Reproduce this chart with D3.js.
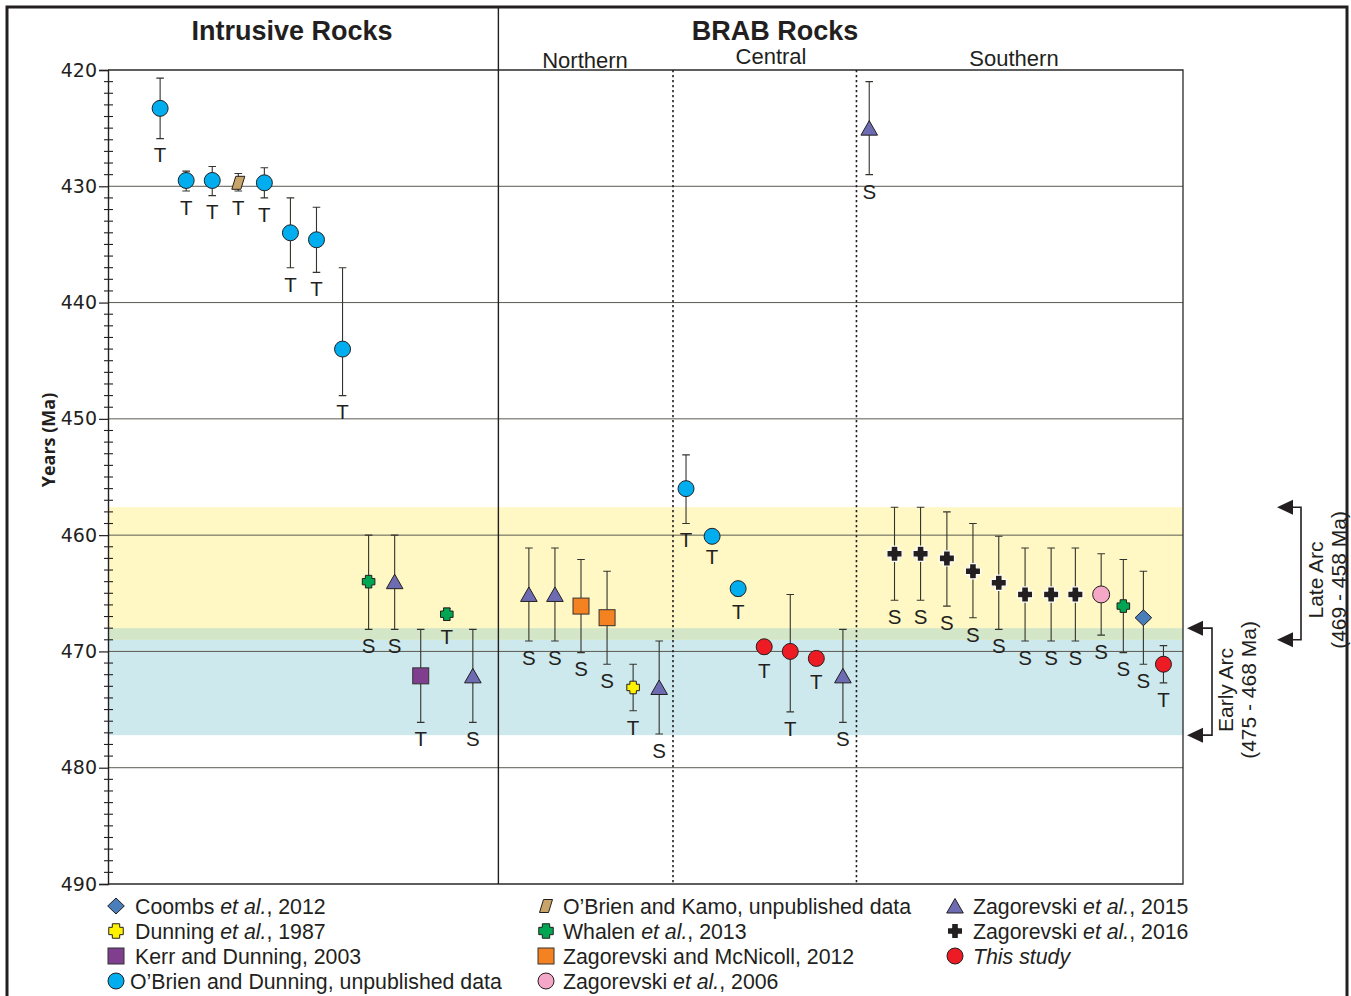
<!DOCTYPE html>
<html>
<head>
<meta charset="utf-8">
<script src="https://cdn.jsdelivr.net/npm/d3@7"></script>
<style>
  body { margin: 0; background: #fff; }
  svg { display: block; }
</style>
</head>
<body>
<svg id="chart" width="1351" height="996"></svg>
<script>
// ---- Age axis (Ma) ----
const ageDomain = [420, 490];
const ageTicks = [420, 430, 440, 450, 460, 470, 480, 490];
const gridAges = [430, 440, 450, 460, 470, 480];

// Horizontal sample slots (one slot per dated sample)
const slotDomain = [-2, 39.25];
const sectionBreak = 12.98;        // Intrusive | BRAB
const subBreaks = [19.68, 26.72];  // Northern | Central | Southern

// Arc phases (Ma)
const lateArc = [457.6, 469.0];
const earlyArc = [468.0, 477.2];

// Samples: [slot, source, age, min, max, method]
const intrusive = [
  [0,  "obd", 423.3, 420.7, 425.9, "T"],
  [1,  "obd", 429.5, 428.7, 430.4, "T"],
  [2,  "obd", 429.5, 428.3, 430.8, "T"],
  [3,  "obk", 429.7, 428.9, 430.4, "T"],
  [4,  "obd", 429.7, 428.4, 431.0, "T"],
  [5,  "obd", 434.0, 431.0, 437.0, "T"],
  [6,  "obd", 434.6, 431.8, 437.4, "T"],
  [7,  "obd", 444.0, 437.0, 448.0, "T"],
  [8,  "wha", 464.0, 460.0, 468.1, "S"],
  [9,  "z15", 464.0, 460.0, 468.1, "S"],
  [10, "ker", 472.1, 468.1, 476.1, "T"],
  [11, "wha", 466.8, 466.3, 467.3, "T"],
  [12, "z15", 472.1, 468.1, 476.1, "S"]
];
const northern = [
  [14.15, "z15", 465.1, 461.1, 469.1, "S"],
  [15.15, "z15", 465.1, 461.1, 469.1, "S"],
  [16.15, "zmc", 466.1, 462.1, 470.1, "S"],
  [17.15, "zmc", 467.1, 463.1, 471.1, "S"],
  [18.15, "dun", 473.1, 471.1, 475.1, "T"],
  [19.15, "z15", 473.1, 469.1, 477.1, "S"]
];
const central = [
  [20.18, "obd", 456.0, 453.1, 459.0, "T"],
  [21.18, "obd", 460.1, 459.7, 460.4, "T"],
  [22.18, "obd", 464.6, 464.1, 465.2, "T"],
  [23.18, "ths", 469.6, 469.1, 470.2, "T"],
  [24.18, "ths", 470.0, 465.1, 475.2, "T"],
  [25.18, "ths", 470.6, 470.1, 471.2, "T"],
  [26.2,  "z15", 472.1, 468.1, 476.1, "S"]
];
const southern = [
  [27.21, "z15", 425.0, 421.0, 429.0, "S"],
  [28.18, "z16", 461.6, 457.6, 465.6, "S"],
  [29.18, "z16", 461.6, 457.6, 465.6, "S"],
  [30.19, "z16", 462.0, 458.0, 466.1, "S"],
  [31.19, "z16", 463.1, 459.0, 467.1, "S"],
  [32.18, "z16", 464.1, 460.1, 468.1, "S"],
  [33.19, "z16", 465.1, 461.1, 469.1, "S"],
  [34.19, "z16", 465.1, 461.1, 469.1, "S"],
  [35.12, "z16", 465.1, 461.1, 469.1, "S"],
  [36.11, "z06", 465.1, 461.6, 468.6, "S"],
  [36.96, "wha", 466.1, 462.1, 470.1, "S"],
  [37.73, "coo", 467.1, 463.1, 471.1, "S"],
  [38.5,  "ths", 471.1, 469.5, 472.7, "T"]
];

// Data sources: key, marker, colour, legend text parts ([text, italic])
const sources = [
  { key: "coo", shape: "diamond", color: "#4a7ebb", text: [["Coombs ", 0], ["et al.", 1], [", 2012", 0]] },
  { key: "dun", shape: "plusS",   color: "#fff200", text: [["Dunning ", 0], ["et al.", 1], [", 1987", 0]] },
  { key: "ker", shape: "square",  color: "#7f3f8e", text: [["Kerr and Dunning, 2003", 0]] },
  { key: "obd", shape: "circle",  color: "#00aeef", text: [["O\u2019Brien and Dunning, unpublished data", 0]] },
  { key: "obk", shape: "para",    color: "#c9a468", text: [["O\u2019Brien and Kamo, unpublished data", 0]] },
  { key: "wha", shape: "plusS",   color: "#00a651", text: [["Whalen ", 0], ["et al.", 1], [", 2013", 0]] },
  { key: "zmc", shape: "square",  color: "#f58220", text: [["Zagorevski and McNicoll, 2012", 0]] },
  { key: "z06", shape: "circleL", color: "#f4a7c7", text: [["Zagorevski ", 0], ["et al.", 1], [", 2006", 0]] },
  { key: "z15", shape: "tri",     color: "#6d6bb2", text: [["Zagorevski ", 0], ["et al.", 1], [", 2015", 0]] },
  { key: "z16", shape: "plusL",   color: "#231f20", text: [["Zagorevski ", 0], ["et al.", 1], [", 2016", 0]] },
  { key: "ths", shape: "circle",  color: "#ed1c24", text: [["This study", 1]] }
];

// ---- Layout ----
const svg = d3.select("#chart");
const plot = { left: 108, right: 1183, top: 70, bottom: 884 };
const FONT = "'Liberation Sans', Arial, sans-serif";

const y = d3.scaleLinear().domain(ageDomain).range([plot.top, plot.bottom]);
const x = d3.scaleLinear().domain(slotDomain).range([plot.left, plot.right]);
const srcByKey = new Map(sources.map(s => [s.key, s]));

// Marker geometry
function plusPath(L, a) {
  return `M${-a},${-L}H${a}V${-a}H${L}V${a}H${a}V${L}H${-a}V${a}H${-L}V${-a}H${-a}Z`;
}
function drawMarker(g, shape, color, k = 1) {
  const stroke = "#231f20";
  switch (shape) {
    case "circle":
      g.append("circle").attr("r", 8 * k).attr("fill", color).attr("stroke", stroke).attr("stroke-width", 1);
      break;
    case "circleL":
      g.append("circle").attr("r", 8.5 * k).attr("fill", color).attr("stroke", stroke).attr("stroke-width", 1);
      break;
    case "square":
      g.append("rect").attr("x", -8 * k).attr("y", -8 * k).attr("width", 16 * k).attr("height", 16 * k)
        .attr("fill", color).attr("stroke", "#333").attr("stroke-width", 1);
      break;
    case "tri":
      g.append("path").attr("d", `M0,${-7.5 * k}L${8.3 * k},${7 * k}L${-8.3 * k},${7 * k}Z`)
        .attr("fill", color).attr("stroke", stroke).attr("stroke-width", 1);
      break;
    case "diamond":
      g.append("path").attr("d", `M0,${-8 * k}L${8.3 * k},0L0,${8 * k}L${-8.3 * k},0Z`)
        .attr("fill", color).attr("stroke", stroke).attr("stroke-width", 1);
      break;
    case "para":
      g.append("path").attr("d", `M${-2.5 * k},${-6.5 * k}L${6.5 * k},${-6.5 * k}L${2.5 * k},${6.5 * k}L${-6.5 * k},${6.5 * k}Z`)
        .attr("fill", color).attr("stroke", stroke).attr("stroke-width", 1);
      break;
    case "plusS":
      g.append("path").attr("d", plusPath(6.3 * k, 3.2 * k))
        .attr("fill", color).attr("stroke", stroke).attr("stroke-width", 1).attr("stroke-linejoin", "round");
      break;
    case "plusL":
      g.append("path").attr("d", plusPath(7.6 * k, 3.4 * k))
        .attr("fill", color).attr("stroke", "#fff").attr("stroke-width", 1.2).attr("stroke-linejoin", "round");
      break;
  }
}

// ---- Outer frame ----
svg.append("rect").attr("x", 7).attr("y", 7).attr("width", 1340).attr("height", 1200)
  .attr("fill", "none").attr("stroke", "#231f20").attr("stroke-width", 3);

// ---- Arc bands ----
const bands = svg.append("g");
bands.append("rect").attr("x", plot.left).attr("width", plot.right - plot.left)
  .attr("y", y(earlyArc[0])).attr("height", y(earlyArc[1]) - y(earlyArc[0]))
  .attr("fill", "#cde9ed");
bands.append("rect").attr("x", plot.left).attr("width", plot.right - plot.left)
  .attr("y", y(lateArc[0])).attr("height", y(lateArc[1]) - y(lateArc[0]))
  .attr("fill", "#fff8c5");
const overlap = [Math.max(lateArc[0], earlyArc[0]), Math.min(lateArc[1], earlyArc[1])];
bands.append("rect").attr("x", plot.left).attr("width", plot.right - plot.left)
  .attr("y", y(overlap[0])).attr("height", y(overlap[1]) - y(overlap[0]))
  .attr("fill", "#d3e6c7");

// ---- Gridlines ----
svg.append("g").selectAll("line").data(gridAges).join("line")
  .attr("x1", plot.left).attr("x2", plot.right)
  .attr("y1", d => y(d)).attr("y2", d => y(d))
  .attr("stroke", "#5a5a52").attr("stroke-width", 1);

// ---- Plot box ----
svg.append("path")
  .attr("d", `M${plot.left},${plot.top}H${plot.right}V${plot.bottom}H${plot.left}`)
  .attr("fill", "none").attr("stroke", "#2a2a2a").attr("stroke-width", 1.3);

// Section divider and sub-region dotted lines
svg.append("line").attr("x1", x(sectionBreak)).attr("x2", x(sectionBreak))
  .attr("y1", 8).attr("y2", plot.bottom)
  .attr("stroke", "#231f20").attr("stroke-width", 1.4);
svg.append("g").selectAll("line").data(subBreaks).join("line")
  .attr("x1", d => x(d)).attr("x2", d => x(d))
  .attr("y1", plot.top).attr("y2", plot.bottom)
  .attr("stroke", "#231f20").attr("stroke-width", 1.6).attr("stroke-dasharray", "2.2,2.8");

// ---- Y axis ----
const axisG = svg.append("g").attr("transform", `translate(${plot.left},0)`);
axisG.call(d3.axisLeft(y).tickValues(ageTicks).tickSize(9).tickPadding(2).tickFormat(d3.format("d")));
axisG.select(".domain").attr("stroke", "#231f20").attr("stroke-width", 1.4);
axisG.selectAll(".tick line").attr("stroke", "#231f20").attr("stroke-width", 1.2);
axisG.selectAll(".tick text")
  .attr("font-family", "'DejaVu Sans', Verdana, sans-serif").attr("font-size", 19).attr("fill", "#231f20");

const minorAges = d3.range(ageDomain[0] + 1, ageDomain[1]).filter(v => v % 10 !== 0);
svg.append("g").selectAll("line").data(minorAges).join("line")
  .attr("x1", plot.left - 4).attr("x2", plot.left + 5)
  .attr("y1", d => y(d)).attr("y2", d => y(d))
  .attr("stroke", "#231f20").attr("stroke-width", 1.1);

svg.append("text")
  .attr("transform", "translate(55,440) rotate(-90)")
  .attr("text-anchor", "middle")
  .attr("font-family", "'Open Sans', 'DejaVu Sans', sans-serif")
  .attr("font-weight", 700).attr("font-size", 18).attr("fill", "#231f20")
  .text("Years (Ma)");

// ---- Headers ----
const headers = [
  { t: "Intrusive Rocks", x: 292, y: 40, bold: true, size: 27 },
  { t: "BRAB Rocks", x: 775, y: 40, bold: true, size: 27 },
  { t: "Northern", x: 585, y: 68, bold: false, size: 22 },
  { t: "Central", x: 771, y: 64, bold: false, size: 22 },
  { t: "Southern", x: 1014, y: 66, bold: false, size: 22 }
];
svg.append("g").selectAll("text").data(headers).join("text")
  .attr("x", d => d.x).attr("y", d => d.y)
  .attr("text-anchor", "middle")
  .attr("font-family", FONT)
  .attr("font-weight", d => d.bold ? 700 : 400)
  .attr("font-size", d => d.size)
  .attr("fill", "#231f20")
  .text(d => d.t);

// ---- Samples ----
const samples = [...intrusive, ...northern, ...central, ...southern].map(r => ({
  slot: r[0], src: r[1], age: r[2], min: r[3], max: r[4], method: r[5]
}));

const errG = svg.append("g").attr("stroke", "#34342c").attr("stroke-width", 1.1).attr("fill", "none");
samples.forEach(d => {
  const cx = x(d.slot), y0 = y(d.min), y1 = y(d.max);
  errG.append("path").attr("d",
    `M${cx},${y0}V${y1}M${cx - 3.8},${y0}H${cx + 3.8}M${cx - 3.8},${y1}H${cx + 3.8}`);
});

const markG = svg.append("g");
samples.forEach(d => {
  const s = srcByKey.get(d.src);
  const g = markG.append("g").attr("transform", `translate(${x(d.slot)},${y(d.age)})`);
  drawMarker(g, s.shape, s.color);
});

svg.append("g").selectAll("text").data(samples).join("text")
  .attr("x", d => x(d.slot))
  .attr("y", d => y(d.max) + 16.5)
  .attr("dy", "0.36em")
  .attr("text-anchor", "middle")
  .attr("font-family", FONT).attr("font-size", 20.5).attr("fill", "#231f20")
  .text(d => d.method);

// ---- Arc brackets ----
function bracket(range, tipX, lineX, lines, textX, textY) {
  const g = svg.append("g");
  const ya = y(range[0]), yb = y(range[1]);
  g.append("path")
    .attr("d", `M${tipX + 12},${ya}H${lineX}V${yb}H${tipX + 12}`)
    .attr("fill", "none").attr("stroke", "#231f20").attr("stroke-width", 1.6);
  [ya, yb].forEach(yy => {
    g.append("path")
      .attr("d", `M${tipX},${yy}L${tipX + 16},${yy - 7.5}L${tipX + 16},${yy + 7.5}Z`)
      .attr("fill", "#231f20");
  });
  lines.forEach((t, i) => {
    g.append("text")
      .attr("transform", `translate(${textX[i]},${textY}) rotate(-90)`)
      .attr("text-anchor", "middle")
      .attr("font-family", FONT).attr("font-size", 21).attr("fill", "#231f20")
      .text(t);
  });
}
bracket(lateArc, 1277, 1301, ["Late Arc", "(469 - 458 Ma)"], [1323, 1346], 580);
bracket(earlyArc, 1187, 1212, ["Early Arc", "(475 - 468 Ma)"], [1233, 1256], 690);

// ---- Legend ----
const legendCols = [
  { keys: ["coo", "dun", "ker", "obd"], mx: 116, tx: 135 },
  { keys: ["obk", "wha", "zmc", "z06"], mx: 546, tx: 563 },
  { keys: ["z15", "z16", "ths"], mx: 955, tx: 973 }
];
const legendRowY = [906, 931, 956, 981];
const legG = svg.append("g");
legendCols.forEach(col => {
  col.keys.forEach((k, i) => {
    const s = srcByKey.get(k);
    const cy = legendRowY[i];
    const mg = legG.append("g").attr("transform", `translate(${col.mx},${cy})`);
    drawMarker(mg, s.shape === "circleL" ? "circle" : s.shape, s.color, s.shape === "plusS" ? 1.15 : 1);
    const tx = (k === "obd") ? col.tx - 5 : col.tx;
    const t = legG.append("text")
      .attr("x", tx).attr("y", cy + 7.5)
      .attr("font-family", FONT).attr("font-size", 21.3).attr("fill", "#231f20");
    s.text.forEach(([str, it]) => {
      t.append("tspan").attr("font-style", it ? "italic" : "normal").text(str);
    });
  });
});
</script>
</body>
</html>
